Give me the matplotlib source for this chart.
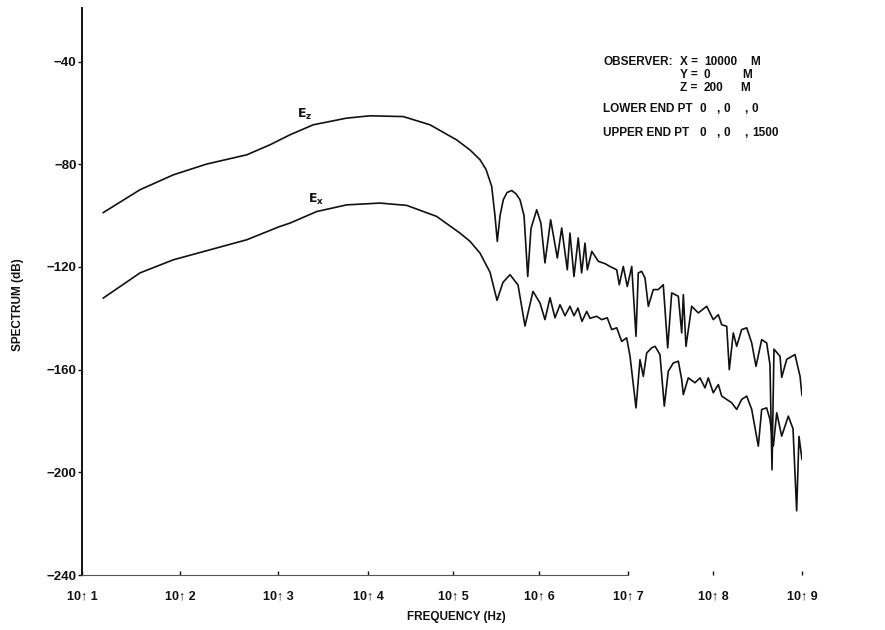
import numpy as np
import matplotlib
matplotlib.use("Agg")
import matplotlib.pyplot as plt

# spectra: log10(frequency in Hz) and level in dB
ez_logf = [1.217, 1.592, 1.932, 2.272, 2.681, 2.918, 3.133, 3.392, 3.763, 4.024,
           4.415, 4.729, 5.043, 5.198, 5.314, 5.384, 5.45, 5.488, 5.515, 5.547,
           5.585, 5.628, 5.683, 5.733, 5.779, 5.826, 5.869, 5.907, 5.973, 6.022,
           6.067, 6.131, 6.206, 6.255, 6.318, 6.348, 6.393, 6.441, 6.479, 6.517,
           6.543, 6.593, 6.667, 6.742, 6.798, 6.873, 6.902, 6.947, 6.992, 7.044,
           7.094, 7.121, 7.161, 7.2, 7.239, 7.298, 7.356, 7.415, 7.467, 7.514,
           7.592, 7.632, 7.651, 7.682, 7.749, 7.827, 7.926, 8.003, 8.06, 8.098,
           8.154, 8.183, 8.228, 8.266, 8.322, 8.379, 8.435, 8.483, 8.547, 8.603,
           8.64, 8.663, 8.685, 8.753, 8.772, 8.828, 8.921, 8.978, 9.0]
ez_db = [-98.8, -89.9, -84.1, -79.9, -76.3, -72.4, -68.5, -64.6, -62.0, -61.1,
         -61.4, -64.6, -70.5, -74.4, -78.2, -82.0, -88.6, -100.0, -110.0, -100.0,
         -93.8, -91.0, -90.2, -91.5, -93.8, -100.0, -123.7, -105.0, -97.7, -103.0,
         -118.4, -101.6, -116.5, -104.8, -121.1, -106.8, -123.7, -108.7, -122.3, -110.7,
         -121.1, -113.9, -117.8, -118.7, -119.8, -121.1, -126.9, -119.8, -127.6, -119.8,
         -147.0, -122.3, -121.7, -124.3, -135.3, -128.8, -128.8, -126.9, -151.5, -130.1,
         -131.4, -145.7, -130.8, -150.9, -135.3, -137.9, -135.3, -140.5, -138.6, -142.5,
         -143.1, -160.0, -145.7, -150.9, -144.4, -143.7, -149.6, -158.7, -148.3, -149.6,
         -158.0, -199.0, -152.0, -154.8, -163.0, -156.0, -154.1, -162.6, -170.0]

ex_logf = [1.217, 1.592, 1.932, 2.306, 2.681, 3.022, 3.133, 3.43, 3.763, 4.141,
           4.455, 4.808, 5.081, 5.198, 5.314, 5.43, 5.512, 5.581, 5.663, 5.756,
           5.837, 5.93, 6.011, 6.067, 6.124, 6.18, 6.236, 6.292, 6.348, 6.393,
           6.438, 6.483, 6.536, 6.573, 6.648, 6.704, 6.767, 6.817, 6.873, 6.929,
           6.985, 7.024, 7.094, 7.141, 7.18, 7.22, 7.279, 7.318, 7.376, 7.427,
           7.474, 7.533, 7.592, 7.632, 7.651, 7.709, 7.788, 7.847, 7.906, 7.945,
           8.003, 8.06, 8.098, 8.154, 8.21, 8.266, 8.322, 8.379, 8.435, 8.509,
           8.547, 8.603, 8.64, 8.678, 8.716, 8.772, 8.846, 8.899, 8.94, 8.966, 9.0]
ex_db = [-132.1, -122.3, -117.2, -113.3, -109.4, -104.2, -102.9, -98.4, -95.8, -95.1,
         -96.0, -100.3, -106.8, -110.0, -114.6, -122.0, -133.0, -126.0, -123.0, -127.0,
         -143.0, -129.5, -134.0, -140.5, -132.0, -139.8, -134.7, -139.0, -135.3, -139.0,
         -136.0, -141.2, -137.3, -140.0, -139.2, -140.5, -139.8, -144.4, -143.7, -149.0,
         -147.6, -154.8, -174.9, -156.1, -162.6, -153.5, -151.5, -150.9, -154.1, -174.2,
         -160.6, -157.4, -156.7, -163.9, -169.7, -163.2, -165.1, -163.2, -167.1, -163.2,
         -169.0, -165.8, -170.3, -171.6, -172.9, -175.5, -171.6, -170.3, -175.5, -189.8,
         -175.5, -174.9, -179.4, -189.8, -176.8, -185.9, -178.1, -183.0, -215.0, -186.0, -195.0]

decades = [1, 2, 3, 4, 5, 6, 7, 8, 9]
y_ticks = [-40, -80, -120, -160, -200, -240]

observer = [("X =", "10000", "M"), ("Y =", "0", "M"), ("Z =", "200", "M")]
lower_end = ["0", "0", "0"]
upper_end = ["0", "0", "1500"]

# the decades on the original axis are drawn by hand, not evenly spaced
decade_width = [98, 98, 90, 85, 86, 89, 85, 89]
edges = np.concatenate([[0], np.cumsum(decade_width)])


def forward(f):
    return np.interp(np.log10(np.clip(f, 1e-300, None)), decades, edges)


def inverse(p):
    return 10.0 ** np.interp(p, edges, decades)


FONT = ["Liberation Sans", "DejaVu Sans"]
plt.rcParams["font.family"] = FONT
plt.rcParams["font.weight"] = "bold"
INK = "#111111"
FS = 8.5

W, H = 885, 630
fig = plt.figure(figsize=(W / 100, H / 100), dpi=100)
ax = fig.add_axes([82 / W, 1 - 575 / H, 720 / W, 567 / H])


def px(x, y):
    return x / W, 1 - y / H


ax.plot(10.0 ** np.array(ez_logf), ez_db, color=INK, lw=1.2)
ax.plot(10.0 ** np.array(ex_logf), ex_db, color=INK, lw=1.2)

ax.set_xscale("function", functions=(forward, inverse))
ax.set_xlim(10, 1e9)
ax.set_ylim(-240, -19.1)

ax.set_xticks([10.0 ** d for d in decades])
ax.set_xticklabels([f"10\u2191 {d}" for d in decades])
ax.set_yticks(y_ticks)
ax.set_yticklabels([str(v).replace("-", "\u2212") for v in y_ticks])
ax.minorticks_off()

ax.tick_params(axis="x", direction="in", length=3, width=1, pad=11,
               labelsize=9, colors=INK)
ax.tick_params(axis="y", direction="out", length=3, width=1, pad=1,
               labelsize=9.5, colors=INK)

for side in ("top", "right"):
    ax.spines[side].set_visible(False)
ax.spines["left"].set_linewidth(1.4)
ax.spines["left"].set_color(INK)
ax.spines["bottom"].set_linewidth(0.8)
ax.spines["bottom"].set_color("#555555")
ax.spines["bottom"].set_bounds(10, 1e7)

# curve labels
ax.text(10 ** 3.3, -60.5, r"$\mathbf{E_z}$", fontsize=9, color=INK,
        ha="center", va="center")
ax.text(10 ** 3.42, -93.5, r"$\mathbf{E_x}$", fontsize=9, color=INK,
        ha="center", va="center")

# axis titles
fig.text(*px(18, 305), "SPECTRUM (dB)", rotation=90, ha="center", va="center",
         fontsize=FS, color=INK)
fig.text(*px(456, 617), "FREQUENCY (Hz)", ha="center", va="center",
         fontsize=FS, color=INK)

# observer / antenna information block
rows_y = [62, 75, 88]
fig.text(*px(603, rows_y[0]), "OBSERVER:", ha="left", va="center", fontsize=FS, color=INK)
for (lab, val, unit), y, ux in zip(observer, rows_y, (750, 742, 740)):
    fig.text(*px(680, y), lab, ha="left", va="center", fontsize=FS, color=INK)
    fig.text(*px(704, y), val, ha="left", va="center", fontsize=FS, color=INK)
    fig.text(*px(ux, y), unit, ha="left", va="center", fontsize=FS, color=INK)

for name, pts, y in (("LOWER END PT", lower_end, 109), ("UPPER END PT", upper_end, 133)):
    fig.text(*px(603, y), name, ha="left", va="center", fontsize=FS, color=INK)
    for v, x in zip(pts, (700, 724, 752)):
        fig.text(*px(x, y), v, ha="left", va="center", fontsize=FS, color=INK)
    for x in (716, 744):
        fig.text(*px(x, y), ",", ha="left", va="center", fontsize=FS, color=INK)

fig.savefig("out.png", dpi=100)
